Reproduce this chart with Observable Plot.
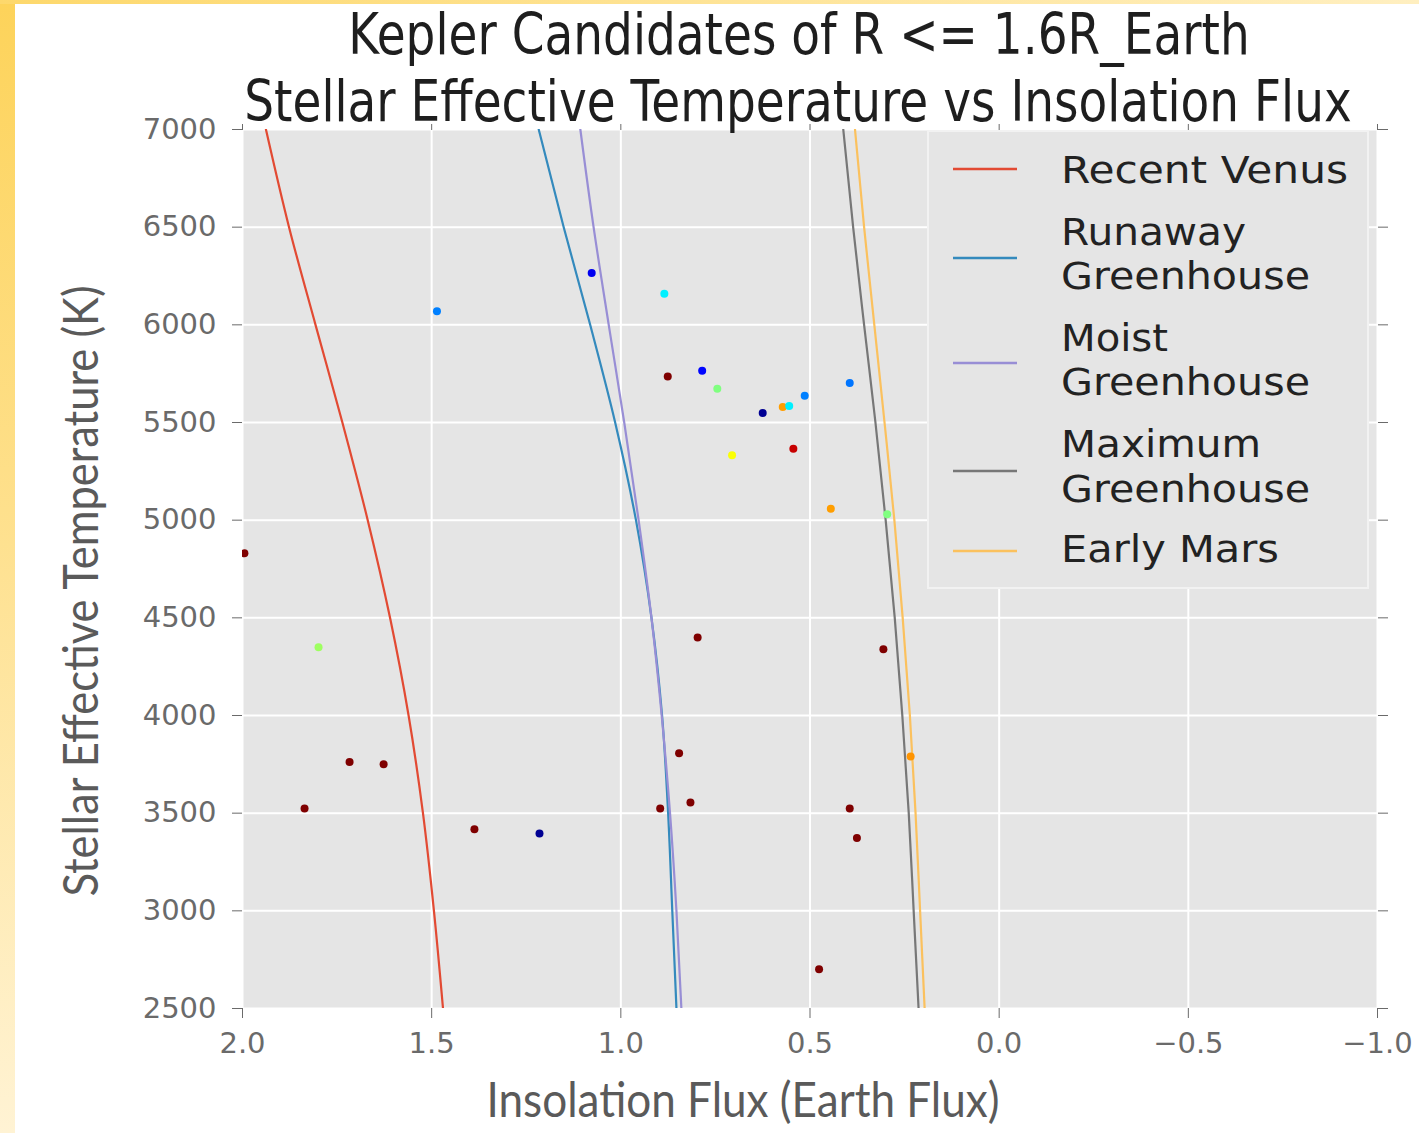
<!DOCTYPE html>
<html><head><meta charset="utf-8">
<script src="https://cdn.jsdelivr.net/npm/d3@7"></script>
<script src="https://cdn.jsdelivr.net/npm/@observablehq/plot@0.6"></script>
<style>
html,body{margin:0;padding:0;}
body{width:1419px;height:1133px;overflow:hidden;position:relative;
 background:linear-gradient(180deg,#fdd35a 0%,#fee08c 45%,#fff3d4 100%);}
#topstrip{position:absolute;left:0;top:0;width:1419px;height:4px;background:linear-gradient(90deg,#fdd86c,#ffefc0);}
#page{position:absolute;left:15px;top:4px;width:1404px;height:1129px;background:#fff;}
#chart{position:absolute;left:0;top:0;}
#overlay{position:absolute;left:0;top:0;}
</style></head><body>
<div id="topstrip"></div><div id="page"></div>
<div id="chart"></div>
<svg id="overlay" width="1419" height="1133"></svg>
<script>
// ---------- data ----------
const seriesNames = ["Recent Venus", "Runaway Greenhouse", "Moist Greenhouse", "Maximum Greenhouse", "Early Mars"];
const teffGrid = [2500, 3000, 3500, 4000, 4500, 5000, 5500, 6000, 6500, 7000];
const recentVenus       = [1.470, 1.494, 1.523, 1.561, 1.610, 1.669, 1.736, 1.807, 1.877, 1.938];
const runawayGreenhouse = [0.853, 0.864, 0.875, 0.891, 0.919, 0.960, 1.015, 1.081, 1.151, 1.217];
const moistGreenhouse   = [0.840, 0.853, 0.870, 0.892, 0.919, 0.953, 0.991, 1.032, 1.072, 1.107];
const maximumGreenhouse = [0.213, 0.226, 0.239, 0.256, 0.276, 0.300, 0.327, 0.357, 0.386, 0.412];
const earlyMars         = [0.197, 0.209, 0.221, 0.236, 0.255, 0.277, 0.303, 0.330, 0.357, 0.381];

const candidateFlux = [1.995, 1.799, 1.836, 1.717, 1.627, 1.387, 1.215, 1.486, 1.077, 0.885,
                       0.876, 0.785, 0.745, 0.625, 0.572, 0.555, 0.514, 0.395, 0.706, 0.544,
                       0.445, 0.296, 0.797, 0.306, 0.846, 0.234, 0.896, 0.816, 0.395, 0.376, 0.476];
const candidateTeff = [4830, 4349, 3524, 3762, 3750, 3418, 3396, 6069, 6265, 6159,
                       5736, 5765, 5673, 5548, 5579, 5584, 5637, 5702, 5332, 5366,
                       5059, 5030, 4399, 4339, 3807, 3790, 3524, 3554, 3524, 3373, 2701];
// value on the jet colour map (0 = dark blue ... 1 = dark red)
const candidateColorValue = [1.00, 0.53, 1.00, 1.00, 1.00, 1.00, 0.02, 0.25, 0.11, 0.36,
                             1.00, 0.13, 0.50, 0.02, 0.72, 0.36, 0.25, 0.24, 0.62, 0.93,
                             0.72, 0.50, 1.00, 1.00, 1.00, 0.73, 1.00, 1.00, 1.00, 1.00, 1.00];

const xTicks = [2.0, 1.5, 1.0, 0.5, 0.0, -0.5, -1.0];
const yTicks = [2500, 3000, 3500, 4000, 4500, 5000, 5500, 6000, 6500, 7000];

const titleLines = ["Kepler Candidates of R <= 1.6R_Earth", "Stellar Effective Temperature vs Insolation Flux"];
const xLabel = "Insolation Flux (Earth Flux)";
const yLabel = "Stellar Effective Temperature (K)";

// ---------- styles ----------
const seriesColors = ["#E24A33", "#348ABD", "#988ED5", "#777777", "#FBC15E"];
const seriesValues = [recentVenus, runawayGreenhouse, moistGreenhouse, maximumGreenhouse, earlyMars];

const curves = seriesValues.map((vals, k) =>
  teffGrid.map((t, i) => ({series: seriesNames[k], teff: t, flux: vals[i]})));
const candidates = candidateFlux.map((f, i) => ({flux: f, teff: candidateTeff[i], c: candidateColorValue[i]}));

const fmtX = d3.format(".1f");
const fmtY = d3.format("d");

const chart = Plot.plot({
  width: 1419, height: 1133,
  marginLeft: 242, marginRight: 42, marginTop: 129, marginBottom: 125,
  style: {background: "transparent", fontFamily: "DejaVu Sans", fontSize: "29px", color: "#6a6a6a"},
  x: {domain: [2, -1]},
  y: {domain: [2500, 7000]},
  color: {type: "linear", domain: [0, 0.125, 0.375, 0.625, 0.875, 1],
          range: ["#00007f", "#0000ff", "#00ffff", "#ffff00", "#ff0000", "#7f0000"], interpolate: "rgb"},
  marks: [
    Plot.frame({fill: "#e5e5e5", stroke: null}),
    Plot.gridX({ticks: xTicks, stroke: "#ffffff", strokeOpacity: 1, strokeWidth: 2}),
    Plot.gridY({ticks: yTicks, stroke: "#ffffff", strokeOpacity: 1, strokeWidth: 2}),
    Plot.axisX({ticks: xTicks, anchor: "bottom", tickSize: 10, tickPadding: 14, tickFormat: fmtX, label: null}),
    Plot.axisX({ticks: xTicks, anchor: "top", tickSize: 6, tickFormat: () => "", label: null}),
    Plot.axisY({ticks: yTicks, anchor: "left", tickSize: 10, tickPadding: 16, tickFormat: fmtY, label: null}),
    Plot.axisY({ticks: yTicks, anchor: "right", tickSize: 10, tickFormat: () => "", label: null}),
    ...curves.map((data, k) => Plot.line(data, {x: "flux", y: "teff", stroke: seriesColors[k], strokeWidth: 2.2, curve: "monotone-y", clip: true})),
    Plot.dot(candidates, {x: "flux", y: "teff", fill: "c", r: 4, clip: true})
  ]
});
document.getElementById("chart").appendChild(chart);

// ---------- title, axis labels, legend ----------
const ov = d3.select("#overlay");
function addText(s, o) {
  const t = ov.append("text").attr("x", 0).attr("y", 0).text(s)
    .attr("font-family", o.font).attr("font-size", o.size).attr("fill", o.fill)
    .attr("text-anchor", o.anchor || "start");
  if (o.len) t.attr("textLength", o.len).attr("lengthAdjust", "spacingAndGlyphs");
  if (o.transform) t.attr("transform", o.transform);
  return t;
}
// condensed title: small natural width, stretched vertically
const titleFont = {font: "DejaVu Sans", size: 47, fill: "#1e1e1e", anchor: "middle"};
addText(titleLines[0], {...titleFont, transform: "translate(799,54) scale(1,1.2)"});
addText(titleLines[1], {...titleFont, transform: "translate(798,121) scale(1,1.2)"});

const labelFont = {font: "Lato", size: 48, fill: "#5a5a5a", anchor: "middle"};
addText(xLabel, {...labelFont, len: 513, transform: "translate(743,1117)"});
addText(yLabel, {...labelFont, len: 611, transform: "translate(98,591) rotate(-90)"});

// legend
ov.append("rect").attr("x", 928).attr("y", 131).attr("width", 440).attr("height", 457)
  .attr("fill", "#e5e5e5").attr("stroke", "#f2f2f2").attr("stroke-width", 2);
const legendLineY = [169, 258, 363, 471, 551];
const legendBaselines = [[183], [245, 289], [351, 395], [457, 502], [562]];
const legendWidths = {"Recent Venus": 287, "Runaway": 185, "Greenhouse": 249, "Moist": 107, "Maximum": 200, "Early Mars": 218};
seriesNames.forEach((name, k) => {
  ov.append("line").attr("x1", 953).attr("x2", 1017).attr("y1", legendLineY[k]).attr("y2", legendLineY[k])
    .attr("stroke", seriesColors[k]).attr("stroke-width", 2.5);
  const parts = name.endsWith("Greenhouse") ? name.split(" ") : [name];
  parts.forEach((p, j) => addText(p,
    {font: "DejaVu Sans", size: 37, fill: "#222", len: legendWidths[p], transform: `translate(1061,${legendBaselines[k][j]})`}));
});
</script></body></html>
